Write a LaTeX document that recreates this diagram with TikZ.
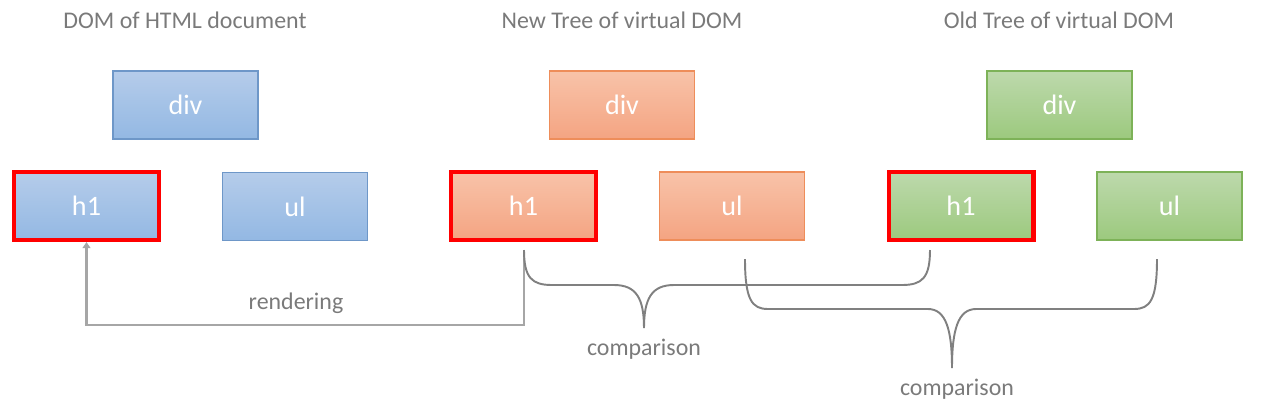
\documentclass[tikz,border=0pt]{standalone}
\usepackage{fontspec}
\setmainfont{Carlito}
\usetikzlibrary{arrows.meta}

\definecolor{txtgray}{HTML}{7A7A7A}
\definecolor{bracegray}{HTML}{808080}
\definecolor{arrowgray}{HTML}{A6A6A6}
\definecolor{bluetop}{HTML}{B5CCEA}
\definecolor{bluebot}{HTML}{93B8E3}
\definecolor{blueline}{HTML}{6E97C8}
\definecolor{orangetop}{HTML}{F8C3A9}
\definecolor{orangebot}{HTML}{F4A482}
\definecolor{orangeline}{HTML}{EE8D5A}
\definecolor{greentop}{HTML}{BDD9AC}
\definecolor{greenbot}{HTML}{9CC97E}
\definecolor{greenline}{HTML}{7DB258}

\begin{document}
\begin{tikzpicture}[
		x=0.02cm, y=-0.02cm,
		every node/.style={font=\fontsize{13.6}{16}\selectfont, text=txtgray},
		box/.style={rectangle, minimum width=2.9cm, minimum height=1.36cm, line width=0.6pt,
			text=white, font=\fontsize{16}{19}\selectfont},
		bluebox/.style={box, draw=blueline, top color=bluetop, bottom color=bluebot},
		orangebox/.style={box, draw=orangeline, top color=orangetop, bottom color=orangebot},
		greenbox/.style={box, draw=greenline, top color=greentop, bottom color=greenbot},
		hilite/.style={draw=red, line width=2.3pt},
		brace/.style={draw=bracegray, line width=1.1pt},
		render/.style={draw=arrowgray, line width=1.4pt, -{Triangle[width=4.5pt, length=3.5pt]}}
	]
  \useasboundingbox (0,0) rectangle (1262,414);
  % titles
  \node (t_dom) at (185,20) {DOM of HTML document};
  \node (t_new) at (622,20) {New Tree of virtual DOM};
  \node (t_old) at (1059,20) {Old Tree of virtual DOM};
  % DOM of HTML document
  \node (b_div) [bluebox] at (185.5,105) {div};
  \node (b_h1) [bluebox, hilite] at (86.5,206) {h1};
  \node (b_ul) [bluebox] at (295,206.5) {ul};
  % new virtual tree
  \node (o_div) [orangebox] at (622,105) {div};
  \node (o_h1) [orangebox, hilite] at (523.5,206) {h1};
  \node (o_ul) [orangebox] at (732,206) {ul};
  % old virtual tree
  \node (g_div) [greenbox] at (1059.5,105) {div};
  \node (g_h1) [greenbox, hilite] at (961,206) {h1};
  \node (g_ul) [greenbox] at (1169.5,206) {ul};
  % labels
  \node (rendering) at (296,303) {rendering};
  \node (cmp_1) at (644,349) {comparison};
  \node (cmp_2) at (957,389) {comparison};
  % brace ends
  \coordinate (r_start) at (524,250);
  \coordinate (tip_1) at (644,328);
  \coordinate (l_1) at (524,250);
  \coordinate (r_1) at (930,250);
  \coordinate (tip_2) at (952,368);
  \coordinate (l_2) at (745,259);
  \coordinate (r_2) at (1157,259);
  % rendering arrow
  \draw [render] (r_start) -- ++(0,75) -| (b_h1.south);
  % comparison braces
  \draw [brace] (l_1) .. controls (524,278) and (532,285) .. (552,285) -- (614,285)
    .. controls (636,285) and (644,298) .. (tip_1)
    .. controls (644,298) and (652,285) .. (674,285) -- (902,285)
    .. controls (922,285) and (930,278) .. (r_1);
  \draw [brace] (l_2) .. controls (745,300) and (752,309) .. (768,309) -- (928,309)
    .. controls (946,309) and (952,330) .. (tip_2)
    .. controls (952,330) and (958,309) .. (976,309) -- (1134,309)
    .. controls (1150,309) and (1157,300) .. (r_2);
\end{tikzpicture}
\end{document}
